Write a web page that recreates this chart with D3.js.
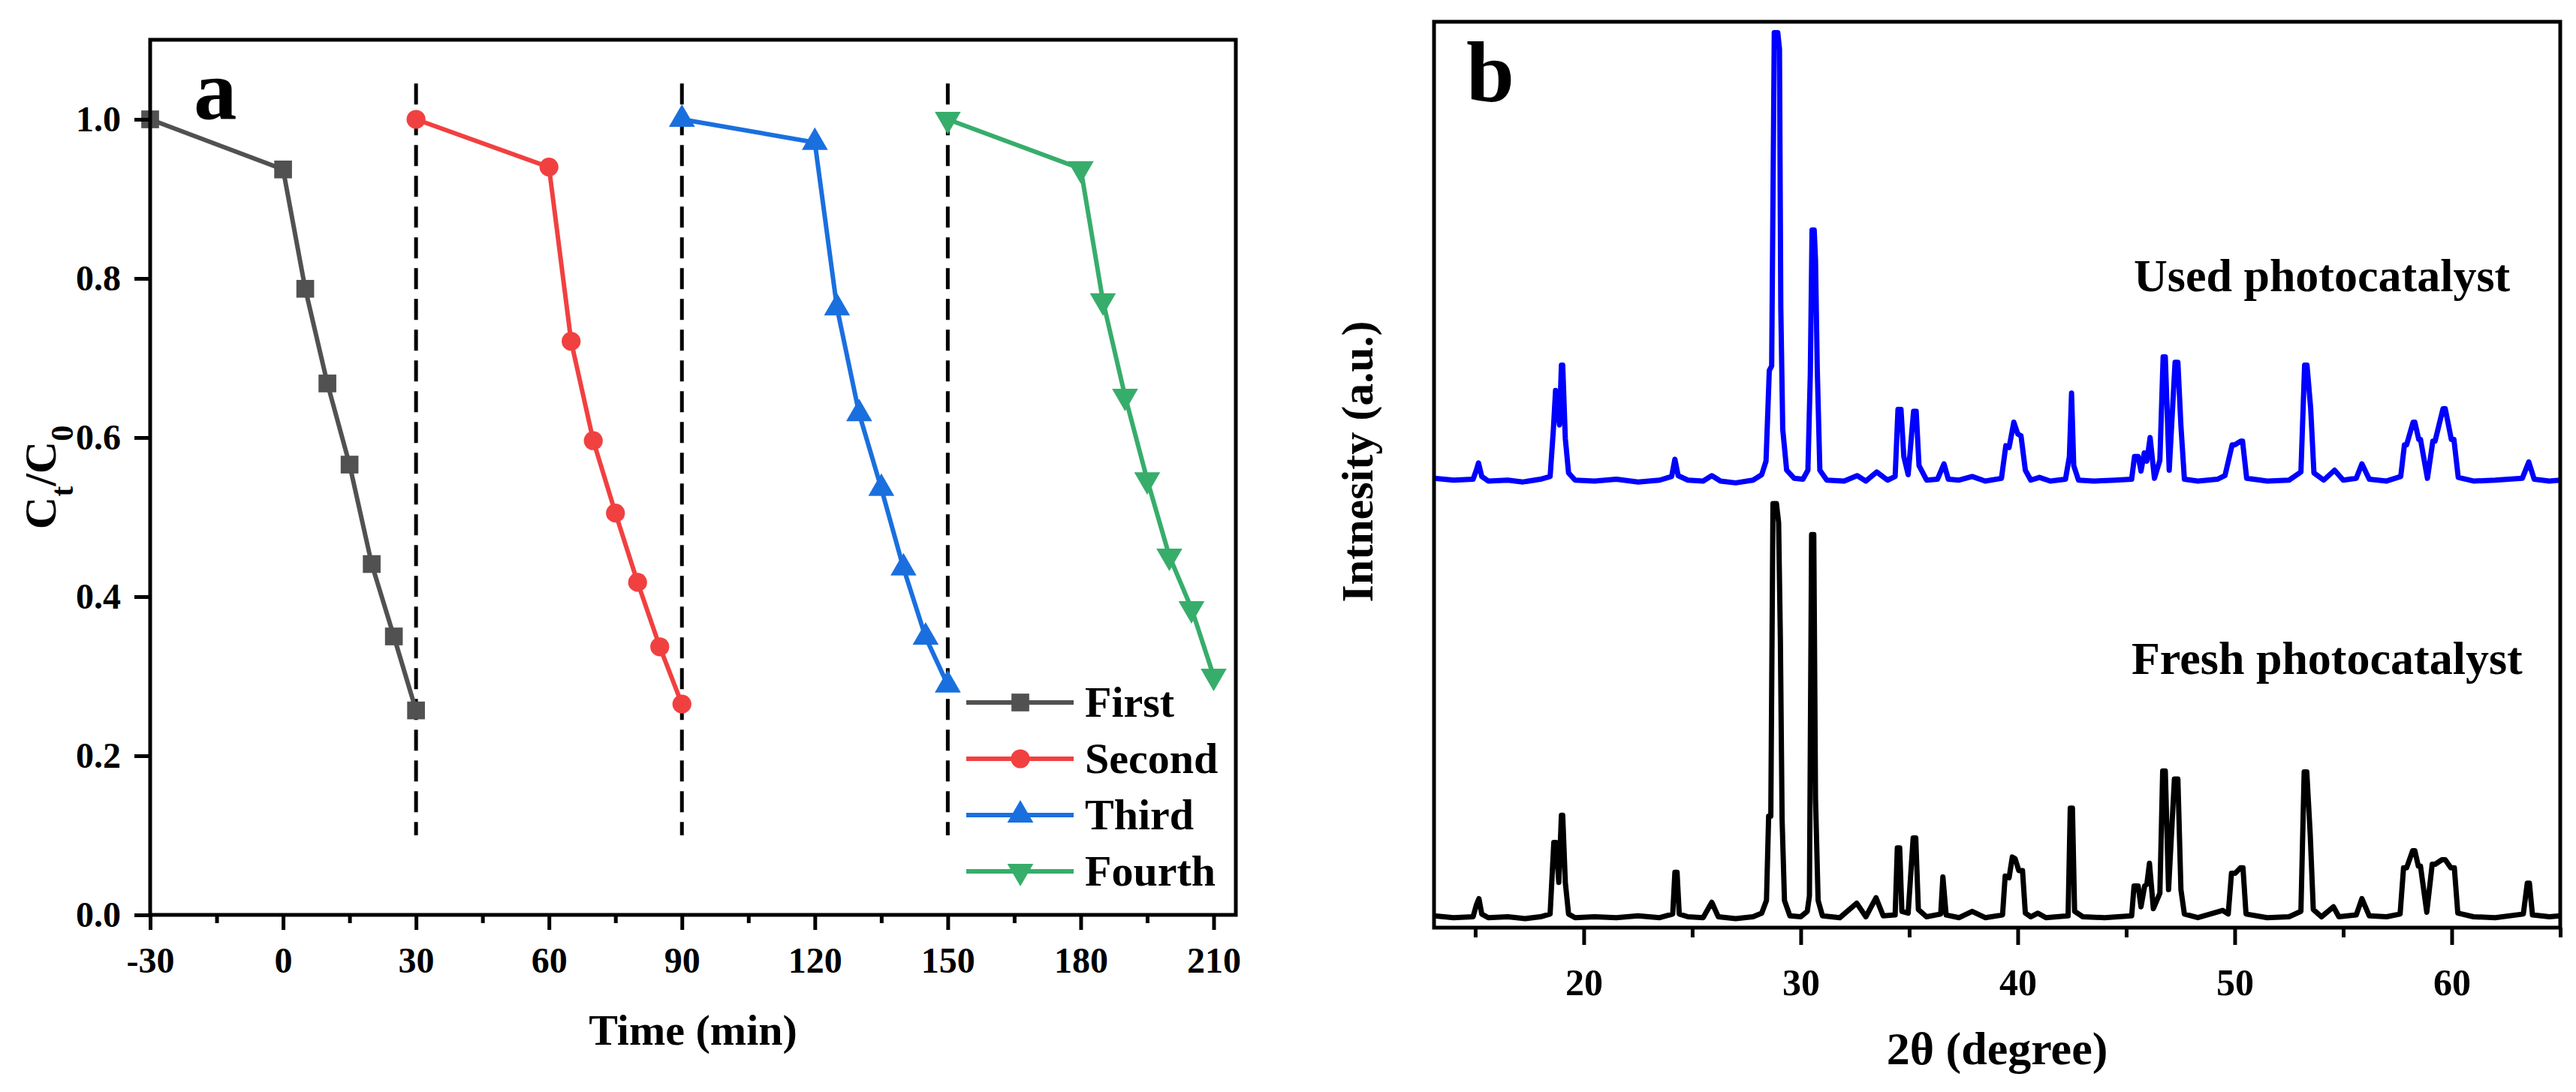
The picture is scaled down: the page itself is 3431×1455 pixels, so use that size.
<!DOCTYPE html>
<html>
<head>
<meta charset="utf-8">
<script src="https://cdn.jsdelivr.net/npm/d3@7"></script>
<style>
    body { margin: 0; background: #fff; }
    text { font-family: "Liberation Serif", "Times New Roman", serif; font-weight: bold; fill: #000; }
</style>
</head>
<body>
<svg id="chart"></svg>
<script>
// ---- panel a data: photocatalytic cycles ----
const seriesNames = ['First', 'Second', 'Third', 'Fourth'];
const seriesColors = ['#515151', '#F14040', '#1A6FDF', '#37AD6B'];
const firstTime = [-30, 0, 5, 10, 15, 20, 25, 30];
const firstRatio = [1.0, 0.937, 0.787, 0.668, 0.566, 0.441, 0.350, 0.257];
const secondTime = [30, 60, 65, 70, 75, 80, 85, 90];
const secondRatio = [1.0, 0.940, 0.721, 0.596, 0.505, 0.418, 0.337, 0.265];
const thirdTime = [90, 120, 125, 130, 135, 140, 145, 150];
const thirdRatio = [1.0, 0.971, 0.763, 0.630, 0.536, 0.436, 0.349, 0.289];
const fourthTime = [150, 180, 185, 190, 195, 200, 205, 210];
const fourthRatio = [1.0, 0.938, 0.772, 0.652, 0.547, 0.451, 0.385, 0.300];
const dividerTimes = [30, 90, 150];
const dividerRange = [0.1, 1.045];
const timeTicks = [-30, 0, 30, 60, 90, 120, 150, 180, 210];
const timeMinorTicks = [-15, 15, 45, 75, 105, 135, 165, 195];
const ratioTicks = [0.0, 0.2, 0.4, 0.6, 0.8, 1.0];

// ---- panel b data: XRD patterns [2theta, intensity] ----
const usedPattern = [
    [13.1,49.6],[14.0,49.4],[14.9,49.5],[15.05,50.5],[15.15,51.3],[15.3,49.8],[15.6,49.3],[16.5,49.4],
    [17.2,49.2],[18.0,49.5],[18.45,49.8],[18.6,55],[18.7,59.3],[18.8,57],[18.88,55.5],[18.97,62.1],
    [19.03,62.1],[19.15,54],[19.3,50.2],[19.6,49.4],[20.5,49.3],[21.5,49.5],[22.5,49.2],[23.5,49.4],
    [24.05,49.8],[24.2,51.7],[24.35,49.9],[24.8,49.4],[25.5,49.3],[25.9,49.9],[26.3,49.3],[27.0,49.1],
    [27.8,49.4],[28.2,50.0],[28.4,51.5],[28.55,61.5],[28.66,62],[28.78,98.8],[28.94,98.8],[29.02,97],
    [29.08,68.5],[29.17,55],[29.35,50.5],[29.7,49.6],[30.1,49.5],[30.33,50.5],[30.44,61],[30.52,77],
    [30.62,77],[30.68,73.7],[30.76,61.8],[30.88,50.5],[31.2,49.4],[32.0,49.3],[32.6,49.9],[33.0,49.3],
    [33.5,50.3],[34.0,49.4],[34.35,49.8],[34.48,57.2],[34.62,57.2],[34.75,52],[34.95,50],[35.2,57],
    [35.32,57],[35.45,51],[35.8,49.4],[36.3,49.5],[36.6,51.2],[36.8,49.5],[37.3,49.4],[37.9,49.8],
    [38.5,49.3],[39.25,49.6],[39.45,53.2],[39.6,53],[39.82,55.8],[40.0,54.5],[40.15,54.3],[40.35,50.5],
    [40.6,49.4],[41.0,49.7],[41.5,49.3],[42.2,49.5],[42.38,52],[42.48,59],[42.58,51],[42.8,49.4],
    [43.5,49.3],[44.5,49.4],[45.25,49.5],[45.38,52.0],[45.55,52.0],[45.68,50.4],[45.83,52.4],[45.95,51.5],
    [46.1,54.1],[46.3,49.6],[46.55,51.6],[46.7,63],[46.8,63],[46.98,50.5],[47.25,62.4],[47.38,62.4],
    [47.52,55.4],[47.68,49.5],[48.3,49.3],[49.2,49.5],[49.55,49.9],[49.88,53.3],[50.0,53.3],[50.28,53.7],
    [50.36,53.7],[50.55,49.6],[51.5,49.3],[52.5,49.4],[53.05,50.3],[53.22,62.1],[53.33,62.1],[53.5,57.3],
    [53.65,50.2],[54.1,49.4],[54.6,50.5],[55.0,49.4],[55.6,49.6],[55.86,51.2],[56.2,49.5],[57.0,49.3],
    [57.65,49.8],[57.82,53.3],[57.92,53.3],[58.22,55.8],[58.3,55.8],[58.48,53.9],[58.56,53.9],[58.88,49.6],
    [59.13,53.7],[59.23,53.7],[59.6,57.3],[59.7,57.3],[59.98,53.9],[60.1,53.9],[60.3,49.7],[61.0,49.3],
    [62.0,49.4],[63.25,49.6],[63.55,51.4],[63.8,49.5],[64.5,49.3],[65.0,49.4]
];
const freshPattern = [
    [13.1,1.3],[14.0,1.1],[14.9,1.2],[15.05,2.5],[15.17,3.2],[15.3,1.5],[15.6,1.1],[16.5,1.2],
    [17.3,1.0],[18.0,1.2],[18.45,1.5],[18.62,9.4],[18.72,9.4],[18.85,5],[18.97,12.4],[19.03,12.4],
    [19.15,5],[19.3,1.5],[19.6,1.1],[20.5,1.2],[21.5,1.1],[22.5,1.3],[23.5,1.1],[24.1,1.5],
    [24.2,6.1],[24.3,6.1],[24.4,1.5],[24.8,1.2],[25.5,1.1],[25.9,2.8],[26.2,1.2],[27.0,1.0],
    [27.8,1.2],[28.2,1.6],[28.42,3],[28.52,12.3],[28.62,12.3],[28.72,46.8],[28.88,46.8],[28.98,44.7],
    [29.06,32],[29.14,12],[29.25,3],[29.5,1.3],[30.0,1.2],[30.3,1.8],[30.4,3.5],[30.5,43.4],
    [30.6,43.4],[30.68,14.3],[30.8,3],[31.0,1.3],[31.8,1.1],[32.58,2.7],[33.0,1.2],[33.47,3.3],
    [33.8,1.3],[34.35,1.4],[34.45,8.8],[34.56,8.8],[34.66,1.8],[34.95,1.6],[35.18,9.9],[35.3,9.9],
    [35.42,2],[35.8,1.2],[36.45,1.5],[36.55,5.6],[36.7,1.4],[37.3,1.1],[37.9,1.8],[38.5,1.1],
    [39.3,1.4],[39.42,5.7],[39.6,5.5],[39.75,7.8],[39.88,7.6],[40.05,6.3],[40.22,6.3],[40.35,1.6],
    [40.6,1.2],[40.93,1.6],[41.3,1.1],[42.32,1.3],[42.42,13.2],[42.52,13.2],[42.62,1.8],[43.0,1.2],
    [44.0,1.1],[45.25,1.3],[45.36,4.6],[45.55,4.6],[45.68,2.3],[45.85,4.6],[45.95,4.8],[46.07,7.1],
    [46.25,2.1],[46.55,3.8],[46.68,17.3],[46.8,17.3],[46.95,4.2],[47.22,16.4],[47.38,16.4],[47.52,4.2],
    [47.68,1.5],[48.3,1.1],[49.44,1.9],[49.7,1.5],[49.85,6.0],[50.02,6.0],[50.26,6.6],[50.38,6.6],
    [50.52,1.5],[51.5,1.1],[52.5,1.2],[53.05,1.8],[53.2,17.2],[53.32,17.2],[53.48,10.2],[53.62,2],
    [54.0,1.2],[54.55,2.3],[54.8,1.2],[55.6,1.4],[55.86,3.2],[56.2,1.3],[57.0,1.2],[57.62,1.5],
    [57.78,6.6],[57.92,6.6],[58.2,8.5],[58.3,8.5],[58.46,6.8],[58.56,6.8],[58.85,1.7],[59.1,7.0],
    [59.24,7.0],[59.55,7.5],[59.7,7.5],[59.96,6.6],[60.12,6.6],[60.28,1.6],[61.0,1.2],[62.0,1.1],
    [63.3,1.5],[63.48,4.9],[63.58,4.9],[63.72,1.4],[64.5,1.2],[65.0,1.3]
];
const patternNames = ['Used photocatalyst', 'Fresh photocatalyst'];
const patternColors = ['#0000FF', '#000000'];
const angleTicks = [20, 30, 40, 50, 60];
const angleMinorTicks = [15, 25, 35, 45, 55, 65];

const W = 3431, H = 1455;
const svg = d3.select('#chart').attr('width', W).attr('height', H);
svg.append('rect').attr('width', W).attr('height', H).attr('fill', '#fff');

// ================= panel a =================
const A = { left: 200, right: 1646, top: 53, bottom: 1219 };
const xA = d3.scaleLinear().domain([-30, 215]).range([A.left, A.right]);
const yA = d3.scaleLinear().domain([0, 1.1]).range([A.bottom, A.top]);
const gA = svg.append('g');

// dashed cycle separators
gA.selectAll('.divider')
    .data(dividerTimes)
    .enter().append('line')
    .attr('x1', d => xA(d)).attr('x2', d => xA(d))
    .attr('y1', yA(dividerRange[1])).attr('y2', yA(dividerRange[0]))
    .attr('stroke', '#000').attr('stroke-width', 5)
    .attr('stroke-dasharray', '28,13');

const series = [
    { name: seriesNames[0], t: firstTime, c: firstRatio, symbol: d3.symbolSquare, size: 560, rot: 0 },
    { name: seriesNames[1], t: secondTime, c: secondRatio, symbol: d3.symbolCircle, size: 500, rot: 0 },
    { name: seriesNames[2], t: thirdTime, c: thirdRatio, symbol: d3.symbolTriangle, size: 520, rot: 0 },
    { name: seriesNames[3], t: fourthTime, c: fourthRatio, symbol: d3.symbolTriangle, size: 520, rot: 180 }
];
const lineA = d3.line().x(d => xA(d[0])).y(d => yA(d[1]));

series.forEach((s, i) => {
    const pts = s.t.map((t, k) => [t, s.c[k]]);
    gA.append('path')
        .datum(pts)
        .attr('fill', 'none')
        .attr('stroke', seriesColors[i])
        .attr('stroke-width', 6)
        .attr('d', lineA);
    gA.selectAll('.m' + i)
        .data(pts)
        .enter().append('path')
        .attr('transform', d => `translate(${xA(d[0])},${yA(d[1])}) rotate(${s.rot})`)
        .attr('d', d3.symbol().type(s.symbol).size(s.size))
        .attr('fill', seriesColors[i]);
});

// axes
const xAxisA = gA.append('g')
    .attr('transform', `translate(0,${A.bottom})`)
    .call(d3.axisBottom(xA).tickValues(timeTicks).tickSize(20).tickPadding(23)
        .tickFormat(d => String(d)));
const xMinorA = gA.append('g')
    .attr('transform', `translate(0,${A.bottom})`)
    .call(d3.axisBottom(xA).tickValues(timeMinorTicks).tickSize(11).tickFormat(''));
const yAxisA = gA.append('g')
    .attr('transform', `translate(${A.left},0)`)
    .call(d3.axisLeft(yA).tickValues(ratioTicks).tickSize(21).tickPadding(18)
        .tickFormat(d3.format('.1f')));
[xAxisA, xMinorA, yAxisA].forEach(ax => {
    ax.select('.domain').remove();
    ax.selectAll('line').attr('stroke', '#000').attr('stroke-width', 5);
    ax.selectAll('text').style('font-size', '48px').attr('fill', '#000');
});

gA.append('rect')
    .attr('x', A.left).attr('y', A.top)
    .attr('width', A.right - A.left).attr('height', A.bottom - A.top)
    .attr('fill', 'none').attr('stroke', '#000').attr('stroke-width', 5);

// legend
const legendA = gA.append('g');
series.forEach((s, i) => {
    const ly = 936 + i * 75;
    legendA.append('line')
        .attr('x1', 1287).attr('x2', 1430).attr('y1', ly).attr('y2', ly)
        .attr('stroke', seriesColors[i]).attr('stroke-width', 6);
    legendA.append('path')
        .attr('transform', `translate(1359,${ly}) rotate(${s.rot})`)
        .attr('d', d3.symbol().type(s.symbol).size(s.size))
        .attr('fill', seriesColors[i]);
    legendA.append('text')
        .attr('x', 1445).attr('y', ly + 19)
        .style('font-size', '58px')
        .text(s.name);
});

// labels
gA.append('text')
    .attr('x', (A.left + A.right) / 2).attr('y', 1392)
    .attr('text-anchor', 'middle').style('font-size', '58px')
    .text('Time (min)');
const yLabA = gA.append('text')
    .attr('transform', `translate(74,${(A.top + A.bottom) / 2}) rotate(-90)`)
    .attr('text-anchor', 'middle').style('font-size', '60px');
yLabA.append('tspan').text('C');
yLabA.append('tspan').attr('baseline-shift', 'sub').style('font-size', '42px').text('t');
yLabA.append('tspan').text('/C');
yLabA.append('tspan').attr('baseline-shift', 'sub').style('font-size', '42px').text('0');
gA.append('text')
    .attr('x', 258).attr('y', 158).style('font-size', '115px').text('a');

// ================= panel b =================
const B = { left: 1910, right: 3410, top: 29, bottom: 1236 };
const xB = d3.scaleLinear().domain([13.1, 65.0]).range([B.left, B.right]);
const yB = d3.scaleLinear().domain([0, 100]).range([B.bottom, B.top]);
const gB = svg.append('g');
const lineB = d3.line().x(d => xB(d[0])).y(d => yB(d[1]));

[usedPattern, freshPattern].forEach((p, i) => {
    gB.append('path')
        .datum(p)
        .attr('fill', 'none')
        .attr('stroke', patternColors[i])
        .attr('stroke-width', 7)
        .attr('stroke-linejoin', 'round')
        .attr('d', lineB);
});

const xAxisB = gB.append('g')
    .attr('transform', `translate(0,${B.bottom})`)
    .call(d3.axisBottom(xB).tickValues(angleTicks).tickSize(23).tickPadding(31)
        .tickFormat(d => String(d)));
const xMinorB = gB.append('g')
    .attr('transform', `translate(0,${B.bottom})`)
    .call(d3.axisBottom(xB).tickValues(angleMinorTicks).tickSize(13).tickFormat(''));
[xAxisB, xMinorB].forEach(ax => {
    ax.select('.domain').remove();
    ax.selectAll('line').attr('stroke', '#000').attr('stroke-width', 5);
    ax.selectAll('text').style('font-size', '50px').attr('fill', '#000');
});

gB.append('rect')
    .attr('x', B.left).attr('y', B.top)
    .attr('width', B.right - B.left).attr('height', B.bottom - B.top)
    .attr('fill', 'none').attr('stroke', '#000').attr('stroke-width', 5);

gB.append('text')
    .attr('x', 2842).attr('y', 388).style('font-size', '62px')
    .text(patternNames[0]);
gB.append('text')
    .attr('x', 2839).attr('y', 898).style('font-size', '62px')
    .text(patternNames[1]);

gB.append('text')
    .attr('x', (B.left + B.right) / 2).attr('y', 1418)
    .attr('text-anchor', 'middle').style('font-size', '62px')
    .text('2θ (degree)');
gB.append('text')
    .attr('transform', `translate(1828,615) rotate(-90)`)
    .attr('text-anchor', 'middle').style('font-size', '60px')
    .text('Intnesity (a.u.)');
gB.append('text')
    .attr('x', 1953).attr('y', 135).style('font-size', '115px').text('b');
</script>
</body>
</html>
